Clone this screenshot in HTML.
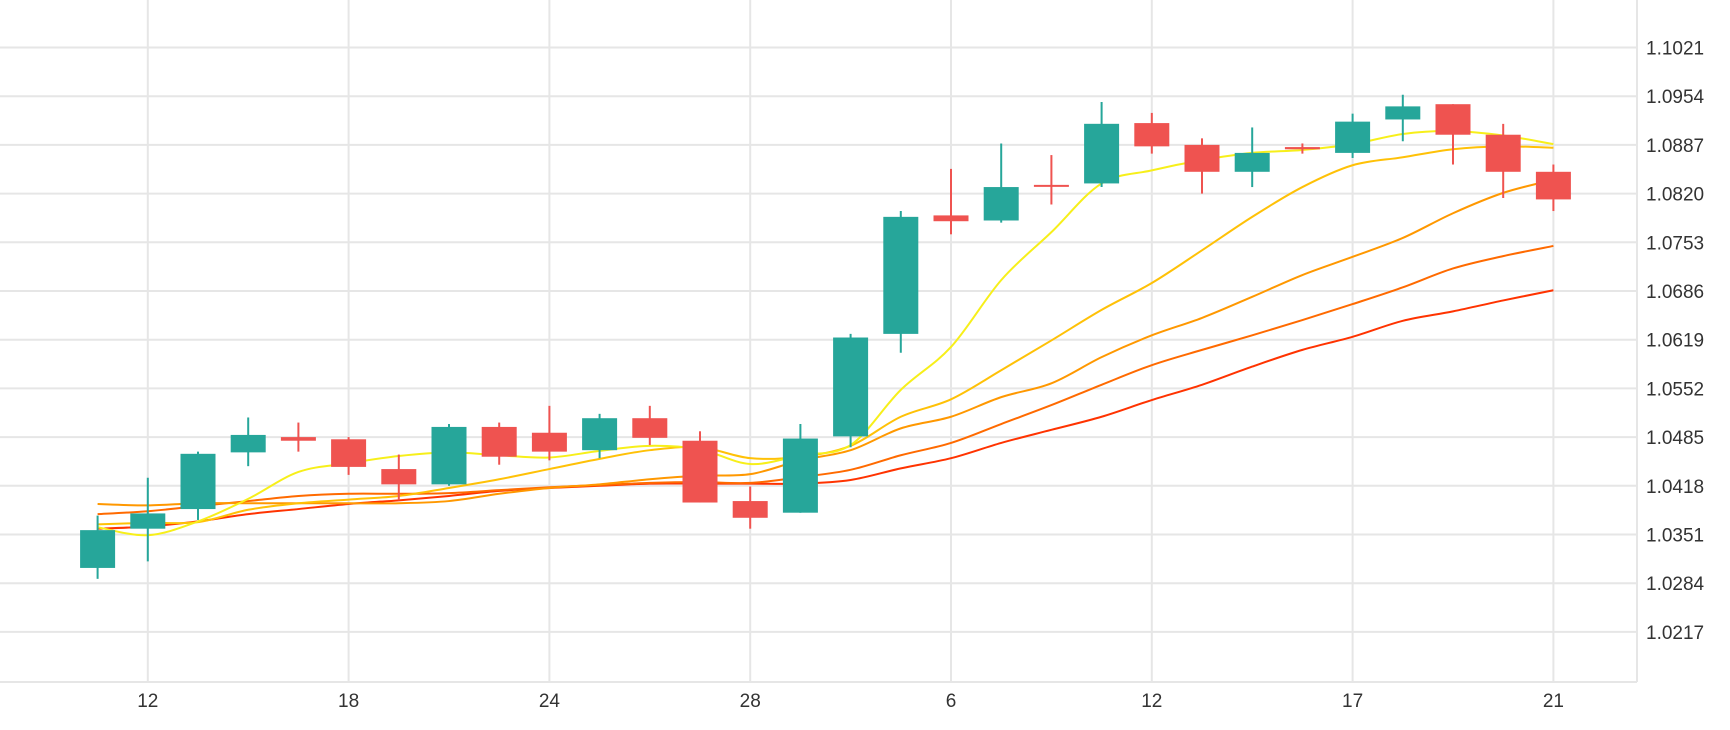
<!DOCTYPE html>
<html><head><meta charset="utf-8"><style>
html,body{margin:0;padding:0;background:#fff;}
svg{display:block;font-family:"Liberation Sans",sans-serif;}
</style></head><body>
<svg id="chart" width="1730" height="730" viewBox="0 0 1730 730" xmlns="http://www.w3.org/2000/svg">
<g id="grid"></g>
<g id="lines"></g>
<g id="candles"></g>
<g id="axes"></g>
</svg>
<script>
const opens  = [1.0305,1.0359,1.0386,1.0464,1.0485,1.0482,1.0441,1.0420,1.0499,1.0491,1.0467,1.0511,1.0480,1.0397,1.0381,1.0486,1.0627,1.0790,1.0783,1.0832,1.0834,1.0917,1.0887,1.0850,1.0884,1.0876,1.0922,1.0943,1.0901,1.0850];
const highs  = [1.0377,1.0429,1.0465,1.0512,1.0505,1.0485,1.0461,1.0503,1.0505,1.0528,1.0517,1.0528,1.0493,1.0417,1.0503,1.0627,1.0796,1.0854,1.0889,1.0873,1.0946,1.0931,1.0896,1.0911,1.0889,1.0930,1.0956,1.0943,1.0916,1.0860];
const lows   = [1.0290,1.0314,1.0371,1.0445,1.0465,1.0433,1.0398,1.0418,1.0447,1.0453,1.0456,1.0474,1.0395,1.0359,1.0381,1.0471,1.0601,1.0764,1.0780,1.0805,1.0829,1.0875,1.0820,1.0829,1.0875,1.0869,1.0892,1.0860,1.0814,1.0796];
const closes = [1.0357,1.0380,1.0462,1.0488,1.0480,1.0444,1.0420,1.0499,1.0458,1.0465,1.0511,1.0484,1.0395,1.0374,1.0483,1.0622,1.0788,1.0782,1.0829,1.0830,1.0916,1.0885,1.0850,1.0876,1.0881,1.0919,1.0940,1.0901,1.0850,1.0812];
const maYellow = [1.0361,1.0350,1.0369,1.0400,1.0437,1.0449,1.0459,1.0464,1.0460,1.0457,1.0466,1.0473,1.0468,1.0448,1.0460,1.0474,1.0550,1.0609,1.0701,1.0767,1.0834,1.0852,1.0866,1.0876,1.0880,1.0888,1.0902,1.0906,1.0900,1.0888];
const maGold   = [1.0365,1.0367,1.0368,1.0385,1.0394,1.0399,1.0404,1.0415,1.0427,1.0441,1.0455,1.0467,1.0471,1.0456,1.0458,1.0473,1.0513,1.0537,1.0577,1.0618,1.0660,1.0697,1.0742,1.0788,1.0829,1.0859,1.0870,1.0881,1.0885,1.0883];
const maOrange = [1.0393,1.0391,1.0394,1.0394,1.0394,1.0394,1.0394,1.0397,1.0407,1.0415,1.0420,1.0427,1.0432,1.0434,1.0453,1.0467,1.0497,1.0513,1.0540,1.0559,1.0595,1.0625,1.0649,1.0678,1.0708,1.0733,1.0759,1.0793,1.0821,1.0839];
const maDark   = [1.0379,1.0383,1.0390,1.0397,1.0404,1.0407,1.0407,1.0408,1.0412,1.0416,1.0419,1.0422,1.0423,1.0422,1.0430,1.0440,1.0460,1.0477,1.0503,1.0529,1.0557,1.0584,1.0605,1.0625,1.0646,1.0668,1.0691,1.0717,1.0734,1.0748];
const maRed    = [1.0359,1.0362,1.0369,1.0379,1.0386,1.0393,1.0398,1.0404,1.0411,1.0415,1.0418,1.0421,1.0421,1.0421,1.0421,1.0426,1.0442,1.0456,1.0477,1.0495,1.0513,1.0536,1.0557,1.0582,1.0605,1.0623,1.0645,1.0658,1.0673,1.0687];
const yTicks = [1.1021,1.0954,1.0887,1.0820,1.0753,1.0686,1.0619,1.0552,1.0485,1.0418,1.0351,1.0284,1.0217];
const xTickIdx = [1,5,9,13,17,21,25,29];
const xTickLabels = ["12","18","24","28","6","12","17","21"];

const NS="http://www.w3.org/2000/svg";
const plotR=1637, plotB=682;
function xs(i){return 97.6+i*50.2;}
function ys(p){return 47.5+(1.1021-p)/0.0067*48.7;}
function mk(tag,attrs,parent){const e=document.createElementNS(NS,tag);for(const k in attrs)e.setAttribute(k,attrs[k]);parent.appendChild(e);return e;}
const grid=document.getElementById('grid'), axes=document.getElementById('axes'), cg=document.getElementById('candles'), lg=document.getElementById('lines');

yTicks.forEach((t)=>{
  const y=ys(t);
  const l=mk('line',{x1:0,x2:plotR,y1:y,y2:y,stroke:'#e6e6e6','stroke-width':2},grid);
  
  
  const tx=mk('text',{x:1646,y:y+7,'font-size':19,fill:'#333'},axes);
  tx.textContent=t.toFixed(4);
  
  
});
xTickIdx.forEach((i,k)=>{
  const x=xs(i);
  const l=mk('line',{x1:x,x2:x,y1:0,y2:plotB,stroke:'#e6e6e6','stroke-width':2},grid);
  
  
  const tx=mk('text',{x:x,y:707,'font-size':19,fill:'#333','text-anchor':'middle'},axes);
  tx.textContent=xTickLabels[k];
  
  
});
const rb=mk('line',{x1:plotR,x2:plotR,y1:0,y2:plotB,stroke:'#e6e6e6','stroke-width':2},grid);


const bb=mk('line',{x1:0,x2:plotR,y1:plotB,y2:plotB,stroke:'#e6e6e6','stroke-width':2},grid);



function smooth(vals){
  const pts=vals.map((v,i)=>[xs(i),ys(v)]);
  let d='M'+pts[0][0]+','+pts[0][1];
  for(let i=0;i<pts.length-1;i++){
    const p0=pts[Math.max(0,i-1)],p1=pts[i],p2=pts[i+1],p3=pts[Math.min(pts.length-1,i+2)];
    const c1=[p1[0]+(p2[0]-p0[0])/6,p1[1]+(p2[1]-p0[1])/6];
    const c2=[p2[0]-(p3[0]-p1[0])/6,p2[1]-(p3[1]-p1[1])/6];
    d+=' C'+c1[0]+','+c1[1]+' '+c2[0]+','+c2[1]+' '+p2[0]+','+p2[1];
  }
  return d;
}
[[maRed,'#ff3300','ma-red'],[maDark,'#ff6a00','ma-dark-orange'],[maOrange,'#ff9800','ma-orange'],[maGold,'#ffc107','ma-gold'],[maYellow,'#f7ef1a','ma-yellow']].forEach(s=>{
  const p=mk('path',{d:smooth(s[0]),fill:'none',stroke:s[1],'stroke-width':2},lg);
  
  
});

opens.forEach((o,i)=>{
  const c=closes[i], up=c>=o, col=up?'#26a69a':'#ef5350', x=xs(i);
  const w=mk('line',{x1:x,x2:x,y1:ys(highs[i]),y2:ys(lows[i]),stroke:col,'stroke-width':2},cg);
  
  
  const top=ys(Math.max(o,c)), h=Math.max(2,ys(Math.min(o,c))-top);
  const r=mk('rect',{x:x-17.5,y:top,width:35,height:h,fill:col},cg);
  
  
});
</script>
</body></html>
